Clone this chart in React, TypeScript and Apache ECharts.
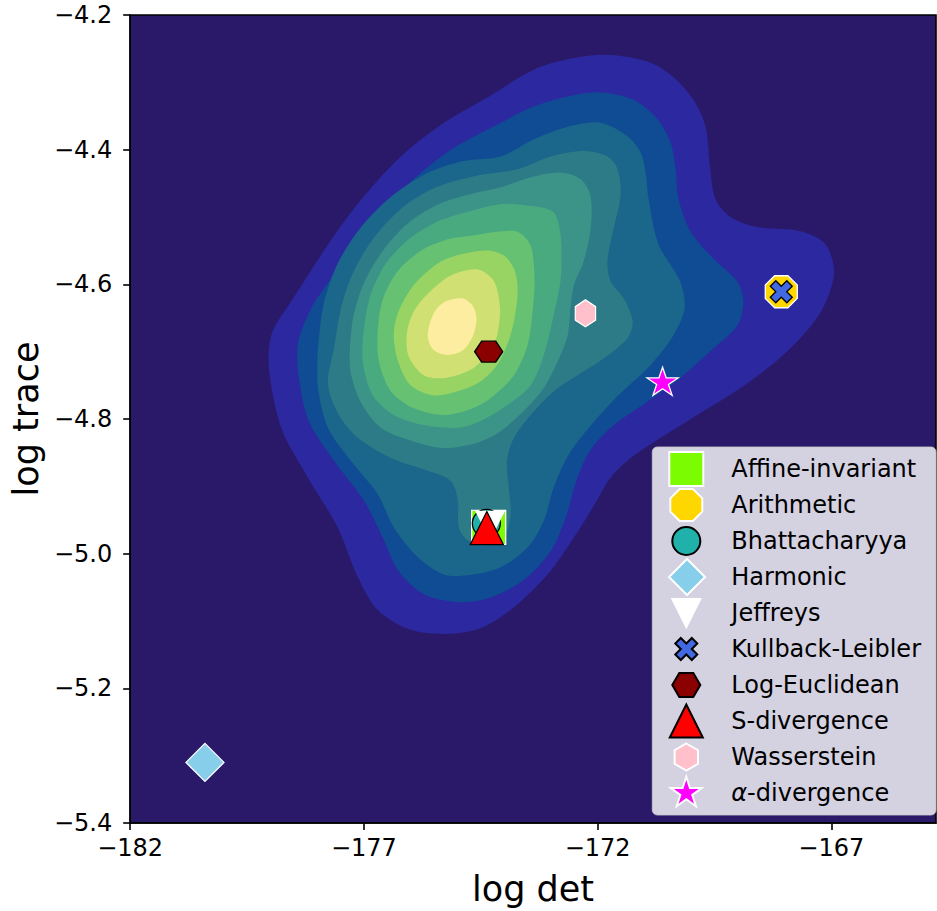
import React, { useEffect, useRef } from 'react';
import * as echarts from 'echarts';

// ---- axes ----
const X_MIN = -182;
const X_MAX = -164.76;
const Y_MIN = -5.4;
const Y_MAX = -4.2;
const X_TICKS = [-182, -177, -172, -167];
const Y_TICKS = [-5.4, -5.2, -5.0, -4.8, -4.6, -4.4, -4.2];

type Pt = [number, number];

// ---- filled density contours (outer -> inner), [log det, log trace] ----
const DENSITY_LEVEL_1: Pt[] = [
  [-173.22, -4.277], [-171.94, -4.259], [-170.93, -4.269], [-170.38, -4.292], [-169.95, -4.326],
  [-169.69, -4.366], [-169.59, -4.429], [-169.48, -4.473], [-169.16, -4.5], [-168.58, -4.515],
  [-167.66, -4.521], [-167.13, -4.54], [-166.94, -4.584], [-167.24, -4.643], [-167.98, -4.702],
  [-168.94, -4.754], [-169.8, -4.791], [-170.65, -4.828], [-171.29, -4.858], [-171.72, -4.887],
  [-172.04, -4.924], [-172.43, -4.968], [-173.0, -5.025], [-173.71, -5.075], [-174.44, -5.109],
  [-175.14, -5.119], [-176.0, -5.113], [-176.7, -5.084], [-177.13, -5.035], [-177.56, -4.961],
  [-178.2, -4.887], [-178.77, -4.813], [-179.03, -4.725], [-178.97, -4.673], [-178.56, -4.626],
  [-177.64, -4.528], [-176.96, -4.466], [-176.21, -4.41], [-175.35, -4.363], [-174.44, -4.326],
];
const DENSITY_LEVEL_2: Pt[] = [
  [-174.07, -4.36], [-173.37, -4.336], [-172.64, -4.321], [-171.94, -4.315], [-171.23, -4.326],
  [-170.72, -4.355], [-170.44, -4.389], [-170.33, -4.429], [-170.27, -4.473], [-170.01, -4.522],
  [-169.52, -4.562], [-169.01, -4.596], [-168.88, -4.626], [-169.01, -4.661], [-169.52, -4.695],
  [-170.23, -4.739], [-170.97, -4.776], [-171.72, -4.813], [-172.19, -4.85], [-172.47, -4.895],
  [-172.68, -4.946], [-173.0, -4.996], [-173.58, -5.039], [-174.29, -5.065], [-174.99, -5.072],
  [-175.72, -5.06], [-176.27, -5.025], [-176.57, -4.98], [-177.0, -4.921], [-177.64, -4.862],
  [-178.18, -4.803], [-178.39, -4.739], [-178.41, -4.688], [-178.13, -4.636], [-177.71, -4.592],
  [-177.24, -4.547], [-176.64, -4.496], [-176.0, -4.448], [-175.14, -4.4],
];
const DENSITY_LEVEL_3: Pt[] = [
  [-174.07, -4.41], [-173.37, -4.385], [-172.64, -4.366], [-171.94, -4.36], [-171.36, -4.38],
  [-171.08, -4.404], [-170.97, -4.436], [-170.91, -4.473], [-170.7, -4.54], [-170.23, -4.596],
  [-170.14, -4.636], [-170.38, -4.676], [-170.87, -4.72], [-171.57, -4.766], [-172.15, -4.81],
  [-172.62, -4.853], [-172.94, -4.902], [-173.15, -4.951], [-173.5, -4.991], [-174.07, -5.02],
  [-174.78, -5.032], [-175.29, -5.031], [-175.85, -5.005], [-176.36, -4.961], [-176.7, -4.912],
  [-177.28, -4.862], [-177.77, -4.813], [-177.98, -4.754], [-177.98, -4.695], [-177.85, -4.626],
  [-177.56, -4.569], [-177.06, -4.515], [-176.42, -4.47], [-175.68, -4.436], [-174.88, -4.417],
];
const DENSITY_LEVEL_4: Pt[] = [
  [-173.71, -4.429], [-173.0, -4.41], [-172.3, -4.402], [-171.79, -4.41], [-171.57, -4.429],
  [-171.51, -4.469], [-171.66, -4.518], [-171.79, -4.566], [-171.72, -4.596], [-171.44, -4.621],
  [-171.25, -4.655], [-171.36, -4.68], [-171.87, -4.71], [-172.43, -4.735], [-172.94, -4.759],
  [-173.43, -4.794], [-173.79, -4.828], [-173.94, -4.862], [-173.9, -4.902], [-173.86, -4.942],
  [-174.01, -4.976], [-174.44, -4.988], [-174.78, -4.98], [-174.97, -4.961], [-174.99, -4.921],
  [-175.14, -4.892], [-175.63, -4.877], [-176.42, -4.858], [-177.13, -4.828], [-177.56, -4.791],
  [-177.77, -4.747], [-177.64, -4.695], [-177.49, -4.636], [-177.24, -4.584], [-176.81, -4.533],
  [-176.21, -4.488], [-175.46, -4.456], [-174.61, -4.439],
];
const DENSITY_LEVEL_5: Pt[] = [
  [-174.71, -4.466], [-174.07, -4.456], [-173.43, -4.441], [-172.79, -4.434], [-172.36, -4.444],
  [-172.15, -4.469], [-172.15, -4.518], [-172.3, -4.566], [-172.51, -4.602], [-172.58, -4.636],
  [-172.64, -4.676], [-172.85, -4.714], [-173.15, -4.754], [-173.58, -4.788], [-174.14, -4.821],
  [-174.71, -4.838], [-175.35, -4.843], [-176.0, -4.832], [-176.64, -4.813], [-177.06, -4.776],
  [-177.28, -4.732], [-177.3, -4.695], [-177.21, -4.643], [-176.96, -4.592], [-176.53, -4.544],
  [-176.0, -4.506], [-175.4, -4.481],
];
const DENSITY_LEVEL_6: Pt[] = [
  [-174.71, -4.491], [-174.07, -4.481], [-173.37, -4.484], [-172.94, -4.493], [-172.79, -4.528],
  [-172.79, -4.592], [-172.94, -4.646], [-173.15, -4.705], [-173.43, -4.75], [-173.92, -4.779],
  [-174.5, -4.803], [-174.99, -4.813], [-175.72, -4.809], [-176.36, -4.794], [-176.81, -4.765],
  [-177.02, -4.717], [-177.0, -4.666], [-176.85, -4.614], [-176.53, -4.569], [-176.04, -4.533],
  [-175.4, -4.506],
];
const DENSITY_LEVEL_7: Pt[] = [
  [-174.71, -4.528], [-174.14, -4.522], [-173.71, -4.522], [-173.43, -4.543], [-173.35, -4.592],
  [-173.39, -4.64], [-173.5, -4.691], [-173.79, -4.735], [-174.29, -4.769], [-174.71, -4.785],
  [-175.29, -4.794], [-175.93, -4.784], [-176.42, -4.759], [-176.68, -4.714], [-176.7, -4.666],
  [-176.59, -4.621], [-176.27, -4.58], [-175.78, -4.55], [-175.25, -4.534],
];
const DENSITY_LEVEL_8: Pt[] = [
  [-174.78, -4.553], [-174.29, -4.55], [-173.97, -4.559], [-173.77, -4.58], [-173.71, -4.609],
  [-173.77, -4.648], [-173.9, -4.683], [-174.12, -4.717], [-174.44, -4.741], [-174.86, -4.756],
  [-175.5, -4.765], [-176.0, -4.75], [-176.27, -4.714], [-176.36, -4.673], [-176.25, -4.639],
  [-175.91, -4.599], [-175.35, -4.566],
];
const DENSITY_LEVEL_9: Pt[] = [
  [-175.14, -4.587], [-174.56, -4.578], [-174.22, -4.595], [-174.09, -4.633], [-174.14, -4.673],
  [-174.29, -4.698], [-174.67, -4.725], [-175.25, -4.739], [-175.72, -4.735], [-176.04, -4.707],
  [-176.08, -4.673], [-175.93, -4.64], [-175.63, -4.614],
];
const DENSITY_LEVEL_10: Pt[] = [
  [-175.21, -4.624], [-174.88, -4.621], [-174.67, -4.632], [-174.59, -4.651], [-174.67, -4.677],
  [-174.88, -4.698], [-175.21, -4.705], [-175.5, -4.698], [-175.63, -4.68], [-175.59, -4.658],
  [-175.44, -4.636],
];
const DENSITY_LEVELS = [
  DENSITY_LEVEL_1, DENSITY_LEVEL_2, DENSITY_LEVEL_3, DENSITY_LEVEL_4, DENSITY_LEVEL_5,
  DENSITY_LEVEL_6, DENSITY_LEVEL_7, DENSITY_LEVEL_8, DENSITY_LEVEL_9, DENSITY_LEVEL_10,
];

// ---- methods (scatter markers) ----
const METHOD_NAMES = [
  'Affine-invariant', 'Arithmetic', 'Bhattacharyya', 'Harmonic', 'Jeffreys',
  'Kullback-Leibler', 'Log-Euclidean', 'S-divergence', 'Wasserstein', 'α-divergence',
];
const METHOD_LOG_DET = [-174.33, -168.07, -174.38, -180.4, -174.3, -168.07, -174.33, -174.37, -172.26, -170.61];
const METHOD_LOG_TRACE = [-4.961, -4.611, -4.955, -5.31, -4.958, -4.611, -4.7, -4.962, -4.643, -4.744];

// ---- styles ----
const BACKGROUND_COLOR = '#2a1968';
const LEVEL_COLORS = [
  '#2b28a0', '#0f4c94', '#1b668b', '#2d7b87', '#3c9387',
  '#4aaa7f', '#66c172', '#98d463', '#d0e072', '#fdeda0',
];
const MARKER_PATHS = [
  'M-17 -17L17 -17L17 17L-17 17Z',
  'M16 6.62L6.62 16L-6.62 16L-16 6.62L-16 -6.62L-6.62 -16L6.62 -16L16 -6.62Z',
  'M-14 0A14 14 0 1 1 14 0A14 14 0 1 1 -14 0Z',
  'M0 -19L19 0L0 19L-19 0Z',
  'M-14 -14L14 -14L0 14Z',
  'M5.5 -11L11 -5.5L5.5 0L11 5.5L5.5 11L0 5.5L-5.5 11L-11 5.5L-5.5 0L-11 -5.5L-5.5 -11L0 -5.5Z',
  'M-14 0L-7 -12.1L7 -12.1L14 0L7 12.1L-7 12.1Z',
  'M0 -16.5L16.5 16.5L-16.5 16.5Z',
  'M0 -13.5L11.7 -6.75L11.7 6.75L0 13.5L-11.7 6.75L-11.7 -6.75Z',
  'M0 -16.3L3.66 -5.04L15.5 -5.04L5.93 1.93L9.58 13.19L0 6.23L-9.58 13.19L-5.93 1.93L-15.5 -5.04L-3.66 -5.04Z',
];
const MARKER_SIZES: [number, number][] = [
  [34, 34], [32, 32], [28, 28], [38, 38], [28, 28], [22, 22], [28, 24.2], [33, 33], [23.4, 27], [31, 29.5],
];
const MARKER_FILL = ['#7cfc00', '#ffd700', '#20b2aa', '#87ceeb', '#ffffff', '#4169e1', '#8b0000', '#ff0000', '#ffc0cb', '#ff00ff'];
const MARKER_EDGE = ['#ffffff', '#ffffff', '#000000', '#ffffff', '#ffffff', '#000000', '#000000', '#000000', '#ffffff', '#ffffff'];

const FONT = 'DejaVu Sans';
const minusFmt = (v: number, digits: number) =>
  (v < -1e-9 ? '\u2212' : '') + Math.abs(v).toFixed(digits);

function buildOption(): any {
  const contourSeries = {
    type: 'custom',
    name: 'density',
    coordinateSystem: 'cartesian2d',
    silent: true,
    z: 1,
    clip: true,
    data: DENSITY_LEVELS.map((lv) => lv[0]),
    renderItem: (params: any, api: any) => {
      const pts = DENSITY_LEVELS[params.dataIndex].map((p) => api.coord(p));
      return {
        type: 'polygon',
        shape: { points: pts, smooth: 0.3 },
        style: { fill: LEVEL_COLORS[params.dataIndex], stroke: null },
      };
    },
  };

  const scatterSeries = METHOD_NAMES.map((name, i) => ({
    type: 'scatter',
    name,
    z: 3,
    silent: true,
    data: [[METHOD_LOG_DET[i], METHOD_LOG_TRACE[i]]],
    symbol: 'path://' + MARKER_PATHS[i],
    symbolSize: MARKER_SIZES[i],
    symbolKeepAspect: true,
    itemStyle: {
      color: MARKER_FILL[i],
      borderColor: MARKER_EDGE[i],
      borderWidth: 1.3,
      opacity: 1,
    },
    emphasis: { disabled: true },
  }));

  const legendText = { fontSize: 24, color: '#000', fontFamily: FONT, lineHeight: 30 };

  return {
    animation: false,
    backgroundColor: '#ffffff',
    textStyle: { fontFamily: FONT },
    grid: {
      left: 129,
      top: 15,
      width: 807,
      height: 812,
      show: true,
      backgroundColor: BACKGROUND_COLOR,
      borderColor: '#000000',
      borderWidth: 1.6,
    },
    xAxis: {
      type: 'value',
      min: X_MIN,
      max: X_MAX,
      interval: 5,
      name: 'log det',
      nameLocation: 'middle',
      nameGap: 48,
      nameTextStyle: { fontSize: 35, color: '#000', fontFamily: FONT },
      axisLine: { show: true, onZero: false, lineStyle: { color: '#000', width: 1.6 } },
      axisTick: { show: true, inside: false, length: 7, lineStyle: { color: '#000', width: 1.6 }, customValues: X_TICKS },
      axisLabel: {
        fontSize: 24,
        color: '#000',
        fontFamily: FONT,
        margin: 13,
        customValues: X_TICKS,
        formatter: (v: number) => minusFmt(v, 0),
      },
      splitLine: { show: false },
    },
    yAxis: {
      type: 'value',
      min: Y_MIN,
      max: Y_MAX,
      interval: 0.2,
      name: 'log trace',
      nameLocation: 'middle',
      nameRotate: 90,
      nameGap: 84,
      nameTextStyle: { fontSize: 35, color: '#000', fontFamily: FONT },
      axisLine: { show: true, onZero: false, lineStyle: { color: '#000', width: 1.6 } },
      axisTick: { show: true, inside: false, length: 7, lineStyle: { color: '#000', width: 1.6 }, customValues: Y_TICKS },
      axisLabel: {
        fontSize: 24,
        color: '#000',
        fontFamily: FONT,
        margin: 18,
        customValues: Y_TICKS,
        formatter: (v: number) => minusFmt(v, 1),
      },
      splitLine: { show: false },
    },
    legend: {
      orient: 'vertical',
      right: 1,
      top: 447,
      padding: [3, 15, 3, 15],
      itemWidth: 70,
      itemHeight: 36,
      itemGap: -2,
      selectedMode: false,
      backgroundColor: 'rgba(255,255,255,0.8)',
      borderColor: 'rgba(204,204,204,0.8)',
      borderWidth: 1,
      borderRadius: 5,
      symbolKeepAspect: true,
      textStyle: {
        ...legendText,
        rich: {
          a: { ...legendText, fontStyle: 'italic' },
        },
      },
      formatter: (name: string) =>
        name === 'α-divergence' ? '{a|α}-divergence' : name,
      data: METHOD_NAMES.map((name, i) => ({
        name,
        icon: 'path://M-18 -18M28 18' + MARKER_PATHS[i],
      })),
    },
    series: [contourSeries, ...scatterSeries],
  };
}

export default function App() {
  const ref = useRef<HTMLDivElement>(null);
  useEffect(() => {
    if (!ref.current) return;
    const chart = echarts.init(ref.current, null, { renderer: 'svg' });
    chart.setOption(buildOption());
    return () => chart.dispose();
  }, []);
  return (
    <div
      ref={ref}
      style={{ position: 'fixed', left: 0, top: 0, width: 937, height: 911, background: '#fff' }}
    />
  );
}
